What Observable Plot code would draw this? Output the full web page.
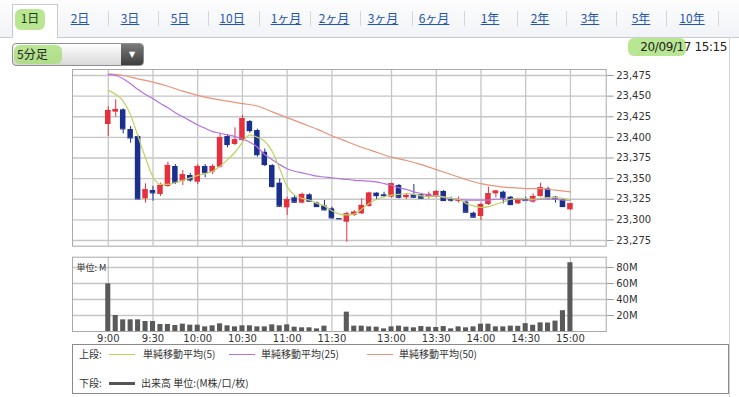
<!DOCTYPE html>
<html><head><meta charset="utf-8">
<script src="https://cdn.jsdelivr.net/npm/d3@7"></script>
<script src="https://cdn.jsdelivr.net/npm/@observablehq/plot@0.6"></script>
<style>
body{margin:0;background:#fff;font-family:"DejaVu Sans","Noto Sans CJK JP",sans-serif;}
#root{position:relative;width:739px;height:397px;overflow:hidden;background:#fff;}
.tabbar{position:absolute;left:0;top:0;width:739px;height:37px;background:linear-gradient(#fdfdfe,#f1f3f6);border-bottom:1px solid #c8ccd2;}
.tab{position:absolute;top:10px;font-size:12px;color:#2455ad;text-decoration:underline;font-family:"Noto Sans CJK JP",sans-serif;transform:translateX(-50%);white-space:nowrap;line-height:16px;}
.sep{position:absolute;top:11px;width:1px;height:15px;background:#d3d6db;}
.active{position:absolute;left:12px;top:4px;width:46px;height:34px;background:#fff;border:1px solid #c8ccd2;border-bottom:none;box-sizing:border-box;}
.hl{position:absolute;background:rgba(160,222,110,0.75);border-radius:6px;filter:blur(0.6px);}
.sel{position:absolute;left:12px;top:43px;width:132px;height:23px;box-sizing:border-box;border:1px solid #8f8f8f;border-radius:4px;background:linear-gradient(#ffffff,#d8d8d8);overflow:hidden;}
.selbtn{position:absolute;right:0;top:0;width:22px;height:100%;background:linear-gradient(#7a7a7a,#3e3e3e);color:#fff;font-size:8px;text-align:center;line-height:21px;}
.txt{position:absolute;font-family:"Noto Sans CJK JP",sans-serif;color:#222;white-space:nowrap;}
.legend{position:absolute;left:72px;top:344px;width:657px;height:50px;box-sizing:border-box;border:1px solid #8a8a8a;}
.lg{position:absolute;font-size:10px;color:#333;font-family:"Noto Sans CJK JP",sans-serif;white-space:nowrap;line-height:12px;}
.ln{position:absolute;height:0;}
#price,#vol{position:absolute;left:0;}
#price{top:64px;} #vol{top:252px;}
.rborder{position:absolute;left:729px;top:37px;width:1px;height:360px;background:#cfd2d6;}
</style></head>
<body><div id="root">
<div class="tabbar"></div>
<div class="active"></div>
<div class="hl" style="left:15px;top:9px;width:30px;height:21px;"></div>
<div id="tabs"></div>
<div class="rborder"></div>
<div class="sel"><div class="selbtn">▼</div></div>
<div class="hl" style="left:14px;top:45px;width:48px;height:19px;"></div>
<div class="txt" style="left:17px;top:46px;font-size:12px;line-height:16px;">5分足</div>
<div class="hl" style="left:628px;top:38px;width:58px;height:18px;"></div>
<div class="txt" style="right:12px;top:39px;font-size:12px;line-height:16px;font-family:'DejaVu Sans',sans-serif;letter-spacing:-0.4px;">20/09/17 15:15</div>
<div id="price"></div>
<div id="vol"></div>
<div class="legend">
  <div class="lg" style="left:6px;top:3px;">上段:</div>
  <div class="ln" style="left:36px;top:9px;width:26px;border-top:1.5px solid #bfd262;"></div>
  <div class="lg" style="left:70px;top:3px;">単純移動平均(5)</div>
  <div class="ln" style="left:156px;top:9px;width:26px;border-top:1.5px solid #b374e0;"></div>
  <div class="lg" style="left:188px;top:3px;">単純移動平均(25)</div>
  <div class="ln" style="left:294px;top:9px;width:26px;border-top:1.5px solid #e8937a;"></div>
  <div class="lg" style="left:326px;top:3px;">単純移動平均(50)</div>
  <div class="lg" style="left:6px;top:32px;">下段:</div>
  <div class="ln" style="left:36px;top:37px;width:26px;border-top:3px solid #555;"></div>
  <div class="lg" style="left:68px;top:32px;">出来高 単位:(M株/口/枚)</div>
</div>
</div>
<script>
// ---- data ----
const tabLabels = ["1日","2日","3日","5日","10日","1ヶ月","2ヶ月","3ヶ月","6ヶ月","1年","2年","3年","5年","10年"];
const timeLabels = ["9:00","9:30","10:00","10:30","11:00","11:30","13:00","13:30","14:00","14:30","15:00"];
const timeSlots = [0,6,12,18,24,30,38,44,50,56,62];
const priceTicks = [23275,23300,23325,23350,23375,23400,23425,23450,23475];
const volTicks = [20,40,60,80];

const open  = [23415.6,23430.6,23433.4,23409.5,23401,23325.5,23335.6,23330.8,23340.5,23364.7,23346.9,23353.8,23345.7,23364.7,23357.8,23363.9,23401,23391.4,23396.2,23419.2,23408.3,23382,23365.9,23344.5,23314.6,23326.7,23320.3,23330.4,23320.3,23317,23313.4,23301.6,23297.2,23305.3,23307.3,23316.2,23332.4,23330.4,23327.5,23341.7,23326.8,23330.4,23330.4,23327.5,23327.5,23334.4,23324.7,23322.7,23321.5,23308.1,23304.1,23318.6,23331.6,23333.6,23327.5,23319.4,23325.1,23321.5,23328.3,23337.6,23327.5,23324.3,23312.2];
const high  = [23437,23445.5,23434.6,23413.2,23402,23343.7,23340.5,23344.5,23370,23367,23359.8,23356.6,23367,23367,23367,23405,23403.5,23411.6,23426.5,23420.5,23410,23386,23367,23349.7,23327.5,23329.5,23332.4,23331.6,23321.5,23323.5,23315.4,23301.8,23309.3,23311,23325.5,23333.6,23333,23333.6,23344.5,23342.9,23331,23342.9,23331.6,23333.6,23335.6,23335.6,23327.5,23327.9,23322.7,23309.3,23320.3,23339.6,23335.6,23334.8,23328.3,23325.1,23327.5,23331.6,23344.5,23339.6,23328.3,23325.5,23319.4];
const low   = [23401,23424.5,23404.3,23393,23324.3,23320.3,23322.7,23328.3,23339.6,23342.9,23341.7,23345.7,23342.9,23351,23355,23363,23387.3,23390.2,23395.4,23405.1,23376,23364.7,23338.8,23315.4,23305.3,23320.3,23319.5,23321.5,23315.4,23311,23301.3,23301.0,23273,23304,23306.5,23315.4,23323.5,23326.7,23326.7,23325.5,23325,23326.7,23325.1,23325.5,23326.7,23322.3,23321.5,23320.3,23308.1,23302.5,23299.2,23317.4,23326.7,23319.4,23317.4,23318.6,23322.7,23320.3,23327.5,23325.5,23320.3,23315.4,23311.4];
const close = [23432.6,23433.8,23410.4,23399.4,23325.5,23336.4,23332.8,23341.7,23365.9,23345.7,23354.6,23348.5,23364.7,23357,23364.7,23399.4,23391.4,23397,23422.5,23408.3,23379.2,23367.1,23340.5,23316.6,23324.3,23321.5,23330.8,23322.7,23316.2,23312.2,23302.5,23301.3,23307.3,23309.3,23317.4,23332.4,23329.5,23329.5,23343.7,23327.5,23329.6,23327.5,23326.3,23330.8,23334.4,23323.5,23323.9,23324,23309.3,23303.3,23318.6,23331.6,23334.8,23326.7,23318.6,23324.3,23323.5,23328.3,23338.8,23326.7,23325.5,23316.2,23319.4];
const volume = [59.6,20,14.6,14.6,14.6,12.5,12.5,8.8,8.8,7.5,9.2,7.9,7.9,5.8,7.1,9.6,7.1,5.8,7.1,7.1,5.8,5.8,8.3,7.1,8.3,5.4,4.6,4.6,3.3,6.7,null,null,24.2,6.7,6.7,5.8,5.4,3.3,5.8,6.7,5.4,4.6,6.2,5.4,5.0,6.2,3.3,5.8,4.6,5.8,9.2,9.2,5.8,5.8,6.7,6.5,9.8,7.8,10.8,10.6,13,26,86];
const ma5  = [23457,23452,23444,23427,23401,23375,23352,23343,23343,23345,23348,23351,23354,23356,23359,23365,23373,23382,23394,23403,23400,23395,23383,23362,23340,23330,23326,23324,23320,23317,23311,23307,23306,23307,23313,23320,23325,23328,23330,23331,23332,23331,23329,23328,23329,23328,23326,23325,23320,23317,23315,23316,23319,23322,23325,23326,23326,23325,23326,23327,23327,23326,23324];
const ma25 = [23476,23475,23471,23465,23458,23452,23447,23441,23436,23430,23425,23420,23415,23411,23407,23405,23403,23401,23398,23394,23388,23379,23373,23367,23362,23359,23357,23355,23353,23352,23351,23350,23349,23348,23347.5,23347,23346,23344,23342,23339,23337,23334,23332,23330,23329,23327,23326,23325,23324,23324,23324,23324,23325,23325,23325,23325,23324,23324,23325,23325,23325,23324,23324];
const ma50Slots = [0,2,4,6,8,10,12,14,16,18,20,22,24,26,28,30,32,34,36,38,40,42,44,46,48,50,52,54,56,58,60,62];
const ma50 = [23477,23475,23471,23467,23462,23456,23451,23447,23444,23441,23438,23431,23424,23417,23410,23402,23395,23388,23382,23376,23372,23367,23361,23355,23349,23344,23341,23339,23338,23338,23336,23334];

// ---- tabs ----
const tabX = [30,80,130,180,232,286,334,383,434,490,540,590,641,692];
const sepX = [108,158,208,259,310,360,412,464,517,566,616,666,718];
const tabs = document.getElementById("tabs");
tabLabels.forEach((t,k)=>{
  const s=document.createElement("div"); s.className="tab"; s.textContent=t; s.style.left=tabX[k]+"px";
  if(k===0){s.style.color="#1f3a10";s.style.textDecoration="none";}
  tabs.appendChild(s);
});
sepX.forEach(x=>{const s=document.createElement("div");s.className="sep";s.style.left=x+"px";tabs.appendChild(s);});

// ---- charts ----
const RED="#e5303e", BLUE="#1b2f8e", GRID="#c6c6c6";
const candles = open.map((o,i)=>({i, o, h: high[i], l: low[i], c: close[i]}));
const col = d => d.c >= d.o ? RED : BLUE;
const hw = 0.37;
const xDom = [-4.8, 66.8];
const font = {fontFamily:"'DejaVu Sans',sans-serif", fontSize:"10px", color:"#333", background:"transparent"};

const price = Plot.plot({
  width:739, height:186, marginLeft:72, marginRight:133.3, marginTop:5, marginBottom:4.3,
  x:{type:"linear", domain:xDom, axis:null},
  y:{domain:[23268.1,23482.3], axis:null},
  color:{type:"identity"},
  style:font,
  marks:[
    Plot.ruleY(priceTicks,{stroke:GRID, strokeWidth:1.3}),
    Plot.ruleX(timeSlots,{stroke:GRID, strokeWidth:1.3}),
    Plot.frame({stroke:"#a9a9a9"}),
    Plot.axisY(priceTicks,{anchor:"right", label:null, tickSize:7, tickPadding:3, tickFormat:d3.format(","), stroke:"#999", fill:"#333"}),
    Plot.ruleX(candles,{x:"i", y1:"l", y2:"h", stroke:col, strokeWidth:1}),
    Plot.rect(candles,{x1:d=>d.i-hw, x2:d=>d.i+hw, y1:"o", y2:"c", fill:col}),
    Plot.ruleY(candles,{x1:d=>d.i-hw, x2:d=>d.i+hw, y:"c", stroke:col, strokeWidth:1.2}),
    Plot.line(ma50,{x:(d,k)=>ma50Slots[k], y:d=>d, stroke:"#e8937a", strokeWidth:1.2, curve:"monotone-x"}),
    Plot.line(ma25,{x:(d,k)=>k, y:d=>d, stroke:"#b374e0", strokeWidth:1.2, curve:"monotone-x"}),
    Plot.line(ma5,{x:(d,k)=>k, y:d=>d, stroke:"#bfd262", strokeWidth:1.2, curve:"monotone-x"})
  ]
});
document.getElementById("price").appendChild(price);

const volData = volume.map((v,i)=>({i, v})).filter(d=>d.v!=null);
const vol = Plot.plot({
  width:739, height:94, marginLeft:72, marginRight:133.3, marginTop:4.7, marginBottom:15,
  x:{type:"linear", domain:xDom, axis:null, label:null},
  y:{domain:[0,92.9], axis:null, label:null},
  style:font,
  marks:[
    Plot.ruleY(volTicks,{stroke:GRID, strokeWidth:1.3}),
    Plot.ruleX(timeSlots,{stroke:GRID, strokeWidth:1.3}),
    Plot.frame({stroke:"#a9a9a9"}),
    Plot.axisY(volTicks,{anchor:"right", label:null, tickSize:7, tickPadding:3, tickFormat:d=>d+"M", stroke:"#999", fill:"#333"}),
    Plot.axisX(timeSlots,{anchor:"bottom", label:null, tickSize:0, tickPadding:3, tickFormat:d=>timeLabels[timeSlots.indexOf(d)], fill:"#333"}),
    Plot.rect(volData,{x1:d=>d.i-0.34, x2:d=>d.i+0.34, y1:0, y2:"v", fill:"#5a5a5a"}),
    Plot.text(["単位: M"],{frameAnchor:"top-left", dx:4, dy:7, fontSize:9, fill:"#333", fontFamily:"'Noto Sans CJK JP',sans-serif", textAnchor:"start"})
  ]
});
document.getElementById("vol").appendChild(vol);
</script>
</body></html>
